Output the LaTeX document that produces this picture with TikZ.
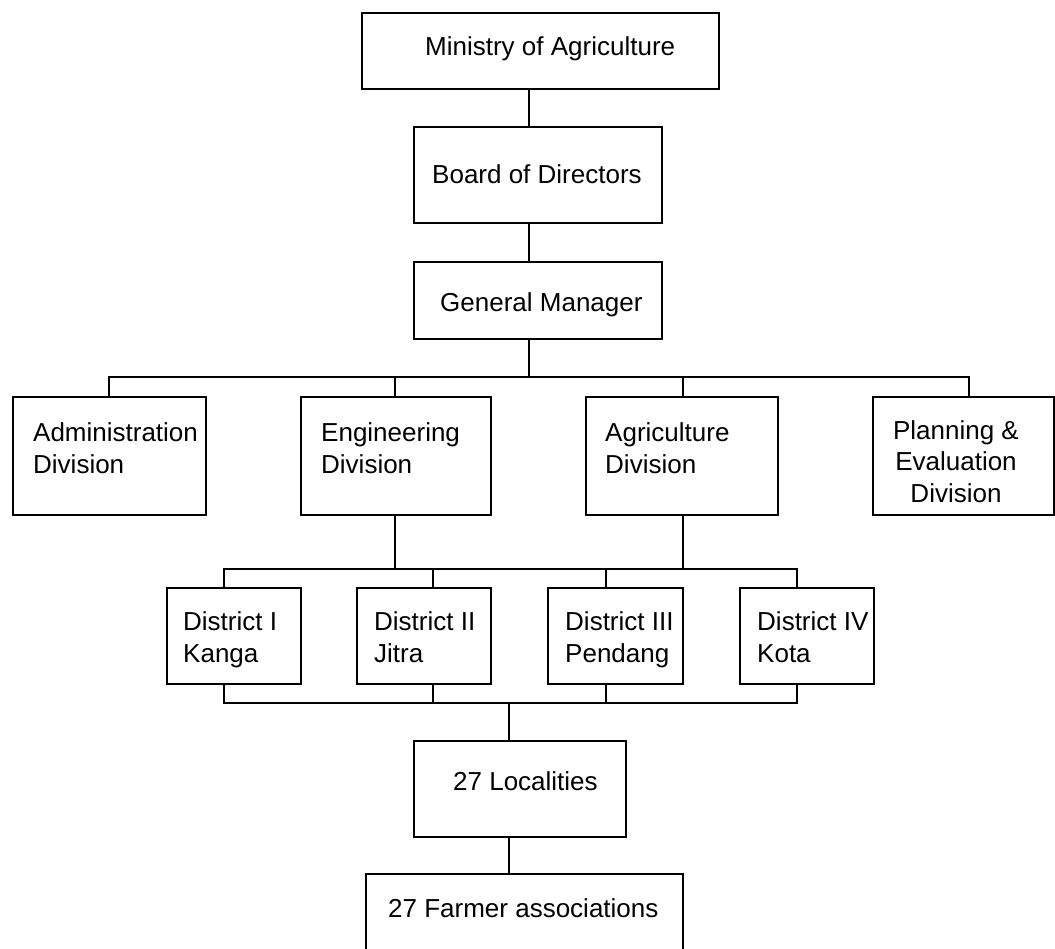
\documentclass[tikz,border=0pt]{standalone}
\usepackage{fontspec}
\setmainfont{Liberation Sans}
\begin{document}
\begin{tikzpicture}[x=1pt, y=-1pt,
  box/.style={draw=black, line width=1.6pt, rectangle, inner sep=0pt, fill=none},
  lbl/.style={inner sep=0pt, anchor=base west, align=left,
              font=\fontsize{26}{31.5}\selectfont},
  clbl/.style={lbl, anchor=base, align=center},
  wire/.style={draw=black, line width=1.6pt, line cap=rect}]

% canvas
\fill[white] (0,0) rectangle (1055,948);
\useasboundingbox (0,0) rectangle (1055,948);

% ---- boxes ----
\node[box, minimum width=357pt, minimum height=76pt]  (min)   at (540.5,51)  {};
\node[box, minimum width=248pt, minimum height=96pt]  (board) at (538,175)   {};
\node[box, minimum width=248pt, minimum height=77pt]  (gm)    at (538,300.5) {};

\node[box, minimum width=193pt, minimum height=118pt] (adm) at (109.5,456) {};
\node[box, minimum width=190pt, minimum height=118pt] (eng) at (396,456)   {};
\node[box, minimum width=192pt, minimum height=118pt] (agr) at (682,456)   {};
\node[box, minimum width=181pt, minimum height=118pt] (pln) at (963.5,456) {};

\node[box, minimum width=134pt, minimum height=96pt] (d1) at (234,636)   {};
\node[box, minimum width=134pt, minimum height=96pt] (d2) at (424,636)   {};
\node[box, minimum width=135pt, minimum height=96pt] (d3) at (615.5,636) {};
\node[box, minimum width=134pt, minimum height=96pt] (d4) at (807,636)   {};

\node[box, minimum width=212pt, minimum height=96pt] (loc) at (520,789)   {};
\node[box, minimum width=317pt, minimum height=86pt] (far) at (524.5,917) {};

% ---- labels (multi-line labels sit on the baseline of their last line) ----
\node[lbl] (minT)   at (425,55)  {Ministry of Agriculture};
\node[lbl] (boardT) at (432,183) {Board of Directors};
\node[lbl] (gmT)    at (440,311) {General Manager};
\node[lbl] (admT)   at (33,473)  {Administration\\Division};
\node[lbl] (engT)   at (321,473) {Engineering\\Division};
\node[lbl] (agrT)   at (605,473) {Agriculture\\Division};
\node[clbl] (plnT)  at (956,502) {Planning \&\\Evaluation\\Division};
\node[lbl] (d1T)    at (183,662) {District I\\Kanga};
\node[lbl] (d2T)    at (374,662) {District II\\Jitra};
\node[lbl] (d3T)    at (565,662) {District III\\Pendang};
\node[lbl] (d4T)    at (757,662) {District IV\\Kota};
\node[lbl] (locT)   at (453,790) {27 Localities};
\node[lbl] (farT)   at (388,917) {27 Farmer associations};

% ---- connector positions ----
\coordinate (spine) at (529,0);
\coordinate (busA)  at (529,377);
\coordinate (xadm)  at (109,0);
\coordinate (xeng)  at (395,0);
\coordinate (xagr)  at (683,0);
\coordinate (xpln)  at (969,0);
\coordinate (busB)  at (0,569);
\coordinate (busC)  at (0,703);
\coordinate (x1) at (224,0);
\coordinate (x2) at (433,0);
\coordinate (x3) at (606,0);
\coordinate (x4) at (797,0);
\coordinate (xloc) at (509,0);

% top chain
\draw[wire] (min.south -| spine) -- (board.north -| spine);
\draw[wire] (board.south -| spine) -- (gm.north -| spine);
\draw[wire] (gm.south -| spine) -- (busA);

% division bus
\draw[wire] (adm.north -| xadm) |- (busA -| xpln) -- (pln.north -| xpln);
\draw[wire] (busA -| xeng) -- (eng.north -| xeng);
\draw[wire] (busA -| xagr) -- (agr.north -| xagr);

% divisions down to districts
\draw[wire] (eng.south -| xeng) -- (busB -| xeng);
\draw[wire] (agr.south -| xagr) -- (busB -| xagr);
\draw[wire] (d1.north -| x1) |- (busB -| x4) -- (d4.north -| x4);
\draw[wire] (busB -| x2) -- (d2.north -| x2);
\draw[wire] (busB -| x3) -- (d3.north -| x3);

% districts down to localities
\draw[wire] (d1.south -| x1) |- (busC -| x4) -- (d4.south -| x4);
\draw[wire] (d2.south -| x2) -- (busC -| x2);
\draw[wire] (d3.south -| x3) -- (busC -| x3);
\draw[wire] (busC -| xloc) -- (loc.north -| xloc);
\draw[wire] (loc.south -| xloc) -- (far.north -| xloc);
\end{tikzpicture}
\end{document}
